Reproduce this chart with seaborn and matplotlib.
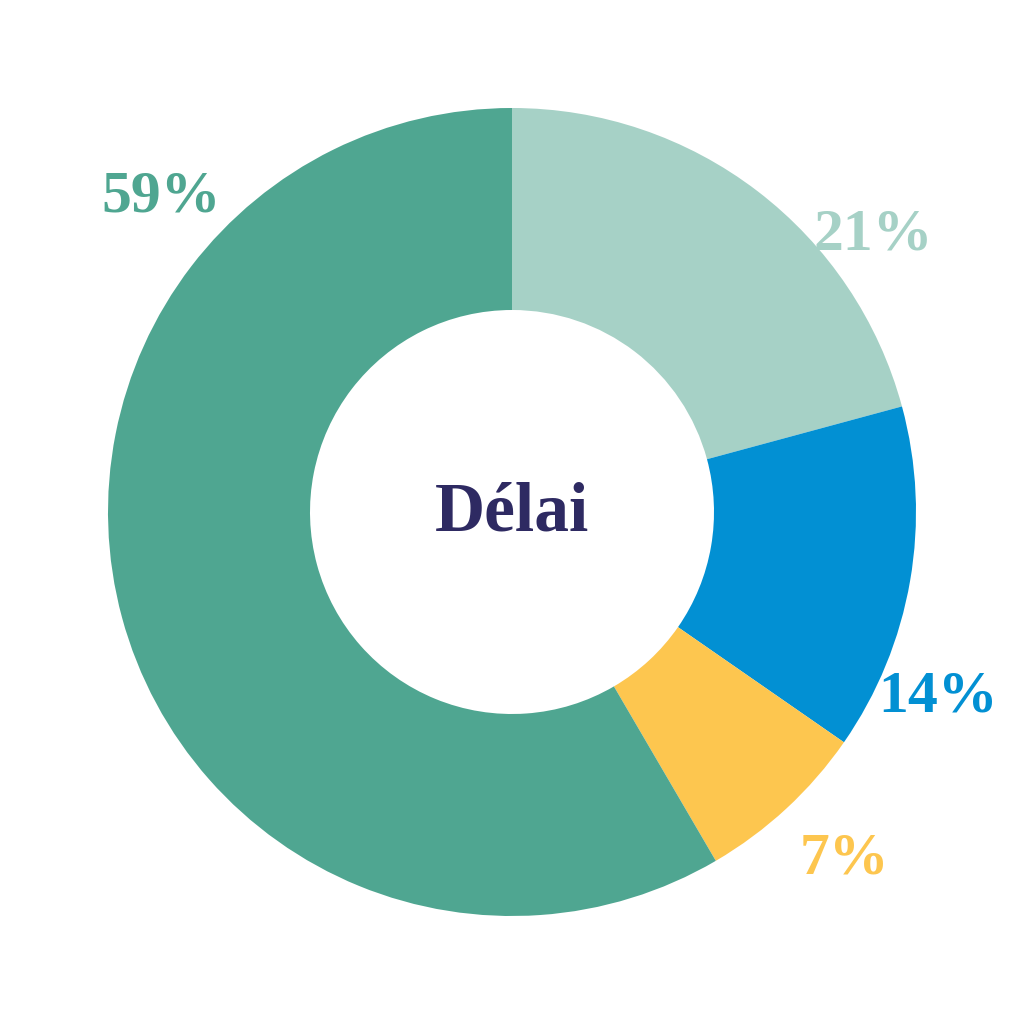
import matplotlib
matplotlib.use("Agg")
import matplotlib.pyplot as plt
import seaborn as sns

sns.set_theme(style="white")

categories = ["Catégorie A", "Catégorie B", "Catégorie C", "Catégorie D"]
values = [21, 14, 7, 59]
labels = ["21%", "14%", "7%", "59%"]
colors = ["#A6D1C6", "#0290D3", "#FDC64F", "#4FA691"]
center_title = "Délai"

# label anchor positions (axes data units, baseline, centred)
label_pos = [(0.894, 0.649), (1.054, -0.495), (0.824, -0.894), (-0.869, 0.743)]

fig = plt.figure(figsize=(10.24, 10.24), dpi=100)
ax = fig.add_axes([0, 0, 1, 1])
ax.pie(values, colors=colors, startangle=90, counterclock=False, radius=1.0,
       wedgeprops=dict(width=0.5, edgecolor="none", linewidth=0))
lim = 512 / 404
ax.set_xlim(-lim, lim)
ax.set_ylim(-lim, lim)
ax.set_aspect("equal")
ax.axis("off")

font = ["Liberation Serif", "DejaVu Serif"]
for lab, (x, y), c in zip(labels, label_pos, colors):
    ax.text(x, y, lab, ha="center", va="baseline", fontsize=43,
            fontweight="bold", color=c, family=font)

ax.text(0, -0.045, center_title, ha="center", va="baseline", fontsize=50,
        fontweight="bold", color="#2E2A62", family=font)

fig.savefig("out.png", dpi=100, facecolor="white")
